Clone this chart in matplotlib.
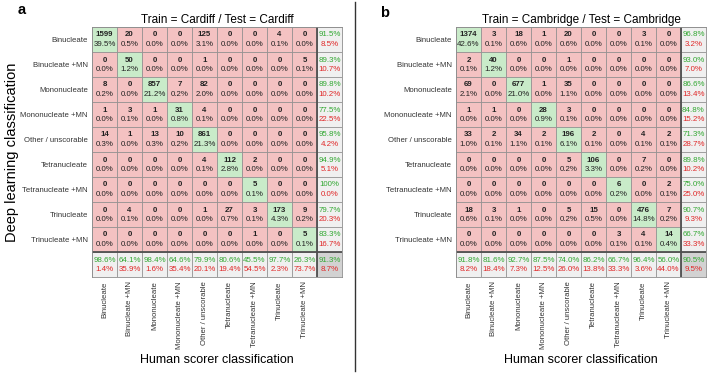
import numpy as np
import matplotlib
matplotlib.use('Agg')
import matplotlib.pyplot as plt
from matplotlib.patches import Rectangle
from matplotlib.lines import Line2D

plt.rcParams['font.family'] = ['Liberation Sans', 'DejaVu Sans']

# クラス名（行 = deep learning, 列 = human scorer）
CLASSES = ['Binucleate', 'Binucleate +MN', 'Mononucleate', 'Mononucleate +MN',
           'Other / unscorable', 'Tetranucleate', 'Tetranucleate +MN',
           'Trinucleate', 'Trinucleate +MN']

CARDIFF = [
    [1599, 20, 0, 0, 125, 0, 0, 4, 0],
    [0, 50, 0, 0, 1, 0, 0, 0, 5],
    [8, 0, 857, 7, 82, 0, 0, 0, 0],
    [1, 3, 1, 31, 4, 0, 0, 0, 0],
    [14, 1, 13, 10, 861, 0, 0, 0, 0],
    [0, 0, 0, 0, 4, 112, 2, 0, 0],
    [0, 0, 0, 0, 0, 0, 5, 0, 0],
    [0, 4, 0, 0, 1, 27, 3, 173, 9],
    [0, 0, 0, 0, 0, 0, 1, 0, 5],
]

CAMBRIDGE = [
    [1374, 3, 18, 1, 20, 0, 0, 3, 0],
    [2, 40, 0, 0, 1, 0, 0, 0, 0],
    [69, 0, 677, 1, 35, 0, 0, 0, 0],
    [1, 1, 0, 28, 3, 0, 0, 0, 0],
    [33, 2, 34, 2, 196, 2, 0, 4, 2],
    [0, 0, 0, 0, 5, 106, 0, 7, 0],
    [0, 0, 0, 0, 0, 0, 6, 0, 2],
    [18, 3, 1, 0, 5, 15, 0, 476, 7],
    [0, 0, 0, 0, 0, 0, 3, 4, 14],
]

TITLES = ['Train = Cardiff / Test = Cardiff', 'Train = Cambridge / Test = Cambridge']

GREEN_CELL = '#c9ebc9'
PINK_CELL = '#f4c2c2'
GRAY_CELL = '#f0f0f0'
CORNER_CELL = '#d2d2d2'
GREEN_TXT = '#33a833'
RED_TXT = '#e02828'
GRID = '#8c8c8c'
FS = 5.7

W, H = 708, 373


def fmt(p):
    if round(p, 1) == 100:
        return '100%'
    return f'{p:.1f}%'


def draw_panel(ax, counts, title):
    cm = np.array(counts)
    n = cm.shape[0]
    total = cm.sum()
    diag = np.diag(cm)
    row_acc = diag / cm.sum(axis=1) * 100
    col_acc = diag / cm.sum(axis=0) * 100
    overall = diag.sum() / total * 100

    for i in range(n):
        for j in range(n):
            c = GREEN_CELL if i == j else PINK_CELL
            ax.add_patch(Rectangle((j, i), 1, 1, facecolor=c, edgecolor=GRID, lw=0.5))
            ax.text(j + 0.5, i + 0.32, str(cm[i, j]), ha='center', va='center',
                    fontsize=FS, fontweight='bold', color='#222222')
            ax.text(j + 0.5, i + 0.70, fmt(cm[i, j] / total * 100), ha='center',
                    va='center', fontsize=FS, color='#222222')
        # 行の正解率
        ax.add_patch(Rectangle((n, i), 1, 1, facecolor=GRAY_CELL, edgecolor=GRID, lw=0.5))
        ax.text(n + 0.5, i + 0.32, fmt(row_acc[i]), ha='center', va='center',
                fontsize=FS, color=GREEN_TXT)
        ax.text(n + 0.5, i + 0.70, fmt(100 - row_acc[i]), ha='center', va='center',
                fontsize=FS, color=RED_TXT)
    # 列の正解率
    for j in range(n):
        ax.add_patch(Rectangle((j, n), 1, 1, facecolor=GRAY_CELL, edgecolor=GRID, lw=0.5))
        ax.text(j + 0.5, n + 0.32, fmt(col_acc[j]), ha='center', va='center',
                fontsize=FS, color=GREEN_TXT)
        ax.text(j + 0.5, n + 0.70, fmt(100 - col_acc[j]), ha='center', va='center',
                fontsize=FS, color=RED_TXT)
    ax.add_patch(Rectangle((n, n), 1, 1, facecolor=CORNER_CELL, edgecolor=GRID, lw=0.5))
    ax.text(n + 0.5, n + 0.32, fmt(overall), ha='center', va='center',
            fontsize=FS, color=GREEN_TXT)
    ax.text(n + 0.5, n + 0.70, fmt(100 - overall), ha='center', va='center',
            fontsize=FS, color=RED_TXT)

    # 区切り線
    ax.plot([n, n], [0, n + 1], color='#505050', lw=1.3)
    ax.plot([0, n + 1], [n, n], color='#505050', lw=1.3)

    ax.set_xlim(0, n + 1)
    ax.set_ylim(n + 1, 0)
    ax.set_xticks(np.arange(n) + 0.5)
    ax.set_yticks(np.arange(n) + 0.5)
    ax.set_xticklabels(CLASSES, rotation=90, fontsize=5.6, color='#333333')
    ax.set_yticklabels(CLASSES, fontsize=5.6, color='#333333')
    ax.tick_params(length=0, pad=3)
    for s in ax.spines.values():
        s.set_color(GRID)
        s.set_linewidth(0.6)
    ax.set_title(title, fontsize=8.5, pad=3)
    ax.set_xlabel('Human scorer classification', fontsize=9, labelpad=4)


fig = plt.figure(figsize=(W / 100, H / 100), dpi=100)

lefts = [92, 456]
for k, (counts, title) in enumerate(zip([CARDIFF, CAMBRIDGE], TITLES)):
    ax = fig.add_axes([lefts[k] / W, (H - 277) / H, 250 / W, 250 / H])
    draw_panel(ax, counts, title)
    if k == 0:
        ax.set_ylabel('Deep learning classification', fontsize=10.5, labelpad=1)

fig.text(22 / W, 1 - 10 / H, 'a', fontsize=10.5, fontweight='bold', ha='center', va='center')
fig.text(385 / W, 1 - 13 / H, 'b', fontsize=10.5, fontweight='bold', ha='center', va='center')
fig.add_artist(Line2D([355 / W, 355 / W], [0.005, 0.995], color='#333333', lw=1,
                      transform=fig.transFigure))

fig.savefig('out.png', dpi=100)
